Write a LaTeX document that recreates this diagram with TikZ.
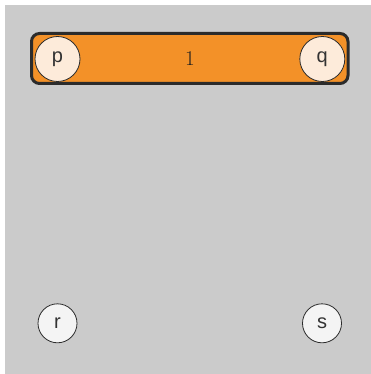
\documentclass[tikz,border=0pt]{standalone}
\usepackage{fontspec}
\newfontfamily\labelfont{Liberation Sans}
\definecolor{bg}{HTML}{CBCBCB}
\definecolor{barfill}{HTML}{F39128}
\definecolor{barline}{HTML}{2B2B2B}
\definecolor{portfill}{HTML}{FDEBDA}
\definecolor{nodefill}{HTML}{F4F4F4}
\definecolor{txt}{HTML}{333333}
\tikzset{
  bar/.style={draw=barline, line width=3pt, fill=barfill, rounded corners=8pt},
  port/.style={circle, draw=barline, line width=0.8pt, fill=portfill, minimum size=45pt, inner sep=0pt, text=txt, font=\labelfont\fontsize{20}{22}\selectfont},
  plain/.style={circle, draw=barline, line width=0.8pt, fill=nodefill, minimum size=39pt, inner sep=0pt, text=txt, font=\labelfont\fontsize{20}{22}\selectfont},
  barlabel/.style={text=txt!60!black, font=\fontsize{21}{24}\selectfont}
}
\begin{document}
\begin{tikzpicture}[x=1pt,y=-1pt]
\useasboundingbox (0,0) rectangle (371,374);
\fill[bg] (5,5) rectangle (371,374);
\draw[bar] (31.5,33.5) rectangle (348,83.5);
\node[barlabel] (one) at (190,58.5) {1};
\node[port] (p) at (57.5,59) {p};
\node[port] (q) at (322.3,59) {q};
\node[plain] (r) at (57.5,323.3) {r};
\node[plain] (s) at (322,323.3) {s};
\end{tikzpicture}
\end{document}
